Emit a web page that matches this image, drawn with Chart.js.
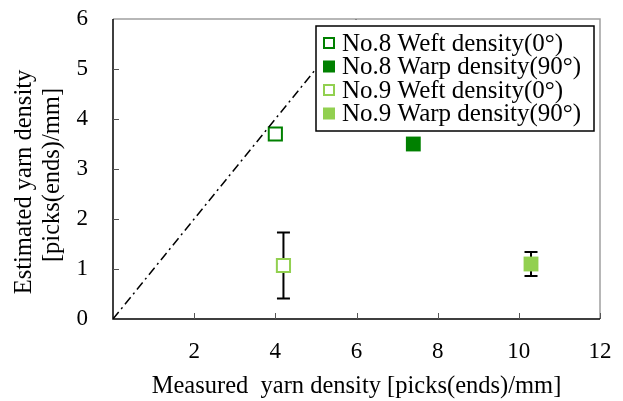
<!DOCTYPE html>
<html><head><meta charset="utf-8">
<script src="https://cdn.jsdelivr.net/npm/chart.js@4"></script>
<style>html,body{margin:0;padding:0;background:#fff}#wrap{width:623px;height:401px}</style>
</head><body><div id="wrap"><canvas id="c" width="623" height="401"></canvas></div>
<script>
const seriesNames = ['No.8 Weft density(0°)','No.8 Warp density(90°)','No.9 Weft density(0°)','No.9 Warp density(90°)'];
const measured = [4.0, 7.4, 4.2, 10.3];
const estimated = [3.7, 3.5, 1.07, 1.1];
const errors = [0, 0, 0.66, 0.24];
const xTicks = [2,4,6,8,10,12];
const yTicks = [0,1,2,3,4,5,6];
const refLine = [[0,0],[6,6]];
const xTitle = 'Measured  yarn density [picks(ends)/mm]';
const yTitle = ['Estimated yarn density','[picks(ends)/mm]'];
const colors = ['#008000','#008000','#92d050','#92d050'];
const filled = [false,true,false,true];

const datasets = seriesNames.map((n,i)=>({
  label:n, type:'scatter',
  data:[{x:measured[i], y:estimated[i]}],
  pointStyle:'rect',
  radius: filled[i]?10.5:9.3,
  borderWidth: filled[i]?0:2,
  borderColor: colors[i],
  backgroundColor: filled[i]?colors[i]:'#ffffff'
}));
datasets.unshift({label:'ref', type:'line', data:refLine.map(p=>({x:p[0],y:p[1]})),
  borderColor:'#000', borderWidth:1.5, borderDash:[9,4,2,4], pointRadius:0, fill:false});

const serif = '"Liberation Serif","Times New Roman",serif';

const plugin = {
  id:'custom',
  beforeDatasetsDraw(chart){
    const ctx=chart.ctx, xs=chart.scales.x, ys=chart.scales.y;
    ctx.save();
    ctx.strokeStyle='#000'; ctx.lineWidth=2;
    for(let i=0;i<measured.length;i++){
      if(!errors[i]) continue;
      const x=xs.getPixelForValue(measured[i]);
      const y1=ys.getPixelForValue(estimated[i]+errors[i]);
      const y2=ys.getPixelForValue(estimated[i]-errors[i]);
      ctx.beginPath();
      ctx.moveTo(x,y1);ctx.lineTo(x,y2);
      ctx.moveTo(x-6.5,y1);ctx.lineTo(x+6.5,y1);
      ctx.moveTo(x-6.5,y2);ctx.lineTo(x+6.5,y2);
      ctx.stroke();
    }
    ctx.restore();
  },
  afterDraw(chart){
    const ctx=chart.ctx, a=chart.chartArea, xs=chart.scales.x, ys=chart.scales.y;
    ctx.save();
    ctx.lineWidth=1.5; ctx.strokeStyle='#a0a0a0';
    ctx.beginPath(); ctx.moveTo(a.left,a.top); ctx.lineTo(a.right,a.top); ctx.lineTo(a.right,a.bottom); ctx.stroke();
    ctx.strokeStyle='#000';
    ctx.beginPath(); ctx.moveTo(a.left,a.top); ctx.lineTo(a.left,a.bottom); ctx.lineTo(a.right,a.bottom); ctx.stroke();
    ctx.lineWidth=1; ctx.strokeStyle='#555';
    ctx.beginPath();
    xTicks.forEach(v=>{const x=Math.round(xs.getPixelForValue(v))+0.5; ctx.moveTo(x,a.bottom); ctx.lineTo(x,a.bottom-6);});
    yTicks.forEach(v=>{if(v===0||v===6)return; const y=Math.round(ys.getPixelForValue(v))+0.5; ctx.moveTo(a.left,y); ctx.lineTo(a.left+6,y);});
    ctx.stroke();
    // y title
    ctx.fillStyle='#000'; ctx.font='24.5px '+serif; ctx.textAlign='center'; ctx.textBaseline='middle';
    ctx.save(); ctx.translate(25,182); ctx.rotate(-Math.PI/2);
    ctx.fillText(yTitle[0],0,0); ctx.fillText(yTitle[1],7,27.5);
    ctx.restore();
    // legend
    const L=316,T=26,R=594,B=131;
    ctx.fillStyle='#fff'; ctx.fillRect(L,a.top+1,R-L,B-a.top);
    ctx.lineWidth=1.5; ctx.strokeStyle='#000'; ctx.strokeRect(L,T,R-L,B-T);
    ctx.font='25px '+serif; ctx.textBaseline='middle'; ctx.textAlign='left';
    const rows=[43,66.5,90,113.5];
    seriesNames.forEach((n,i)=>{
      const cy=rows[i];
      if(filled[i]){ctx.fillStyle=colors[i]; ctx.fillRect(323,cy-6,12,12);}
      else {ctx.strokeStyle=colors[i]; ctx.lineWidth=2; ctx.strokeRect(324,cy-5,10,10);}
      ctx.fillStyle='#000'; ctx.fillText(n,342,cy+1);
    });
    ctx.restore();
  }
};

new Chart(document.getElementById('c'),{
  data:{datasets},
  options:{
    responsive:false, animation:false,
    layout:{padding:{top:19,right:23,left:0,bottom:0}},
    plugins:{legend:{display:false},tooltip:{enabled:false}},
    scales:{
      x:{type:'linear',min:0,max:12,
        afterBuildTicks:s=>{s.ticks=xTicks.map(v=>({value:v}));},
        afterFit:s=>{s.height=82;s.paddingLeft=0;s.paddingRight=0;},
        grid:{display:false,drawTicks:false},border:{display:false},
        ticks:{padding:19,color:'#000',font:{family:serif,size:23}},
        title:{display:true,text:xTitle,color:'#000',font:{family:serif,size:24.5,lineHeight:1.2},padding:{top:0,bottom:0}}
      },
      y:{type:'linear',min:0,max:6,
        afterBuildTicks:s=>{s.ticks=yTicks.map(v=>({value:v}));},
        afterFit:s=>{s.width=113;s.paddingTop=0;s.paddingBottom=0;},
        grid:{display:false,drawTicks:false},border:{display:false},
        ticks:{padding:25,color:'#000',font:{family:serif,size:23}},
        title:{display:false}
      }
    }
  },
  plugins:[plugin]
});
</script></body></html>
